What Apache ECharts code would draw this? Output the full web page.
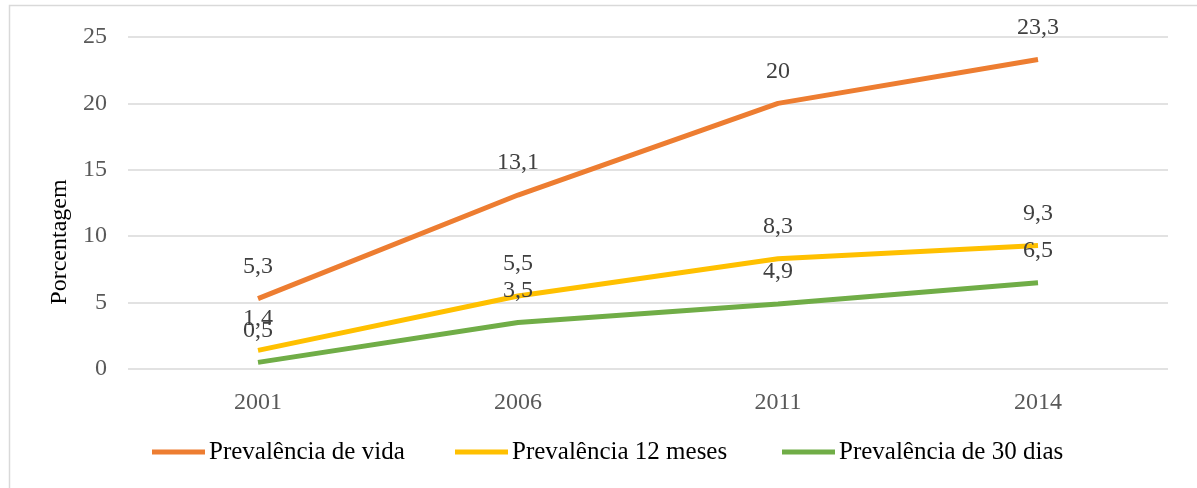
<!DOCTYPE html>
<html>
<head>
<meta charset="utf-8">
<script src="https://cdn.jsdelivr.net/npm/echarts@6/dist/echarts.min.js"></script>
<style>html,body{margin:0;padding:0;background:#fff}#c{width:1197px;height:488px}</style>
</head>
<body>
<div id="c"></div>
<script>
const categories = ['2001', '2006', '2011', '2014'];
const seriesNames = ['Prevalência de vida', 'Prevalência 12 meses', 'Prevalência de 30 dias'];
const vida = [5.3, 13.1, 20, 23.3];
const meses12 = [1.4, 5.5, 8.3, 9.3];
const dias30 = [0.5, 3.5, 4.9, 6.5];
const colors = ['#ED7D31', '#FFC000', '#70AD47'];
const yTicks = { min: 0, max: 25, interval: 5 };
const yName = 'Porcentagem';

const font = 'Liberation Serif';
const chart = echarts.init(document.getElementById('c'), null, { renderer: 'canvas' });
const fmt = p => String(p.value).replace('.', ',');
function mk(name, data, color) {
  return {
    name, type: 'line', data,
    symbol: 'circle', symbolSize: 0.1, showSymbol: true,
    lineStyle: { color, width: 5 },
    itemStyle: { color },
    label: { show: true, position: 'top', distance: 20, formatter: fmt,
      fontFamily: font, fontSize: 24, color: '#404040' },
    emphasis: { disabled: true },
    animation: false
  };
}
const legendLefts = [152, 455, 782];
const legendGraphics = [];
seriesNames.forEach((n, i) => {
  legendGraphics.push({ type: 'rect', shape: { x: legendLefts[i], y: 449.5, width: 53, height: 5 },
    style: { fill: colors[i] }, silent: true });
  legendGraphics.push({ type: 'text', x: legendLefts[i] + 57, y: 452,
    style: { text: n, font: '25px "Liberation Serif", serif', fill: '#000',
      align: 'left', verticalAlign: 'middle' }, silent: true });
});
chart.setOption({
  animation: false,
  color: colors,
  textStyle: { fontFamily: font },
  grid: { left: 128, right: 29, top: 37, bottom: 119 },
  graphic: [
    { type: 'rect', shape: { x: 9.5, y: 5.5, width: 1200, height: 500 },
      style: { fill: 'none', stroke: '#d9d9d9', lineWidth: 1.5 }, silent: true },
    { type: 'text', x: 60, y: 242, rotation: Math.PI / 2,
      style: { text: yName, font: '24px "Liberation Serif", serif', fill: '#000',
        align: 'center', verticalAlign: 'middle' } }
  ].concat(legendGraphics),
  xAxis: {
    type: 'category', data: categories, boundaryGap: true,
    axisLine: { show: false }, axisTick: { show: false },
    axisLabel: { fontFamily: font, fontSize: 24, color: '#595959', margin: 22 }
  },
  yAxis: {
    type: 'value', min: yTicks.min, max: yTicks.max, interval: yTicks.interval,
    axisLine: { show: false }, axisTick: { show: false },
    splitLine: { lineStyle: { color: '#d9d9d9', width: 1.5 } },
    axisLabel: { fontFamily: font, fontSize: 24, color: '#595959', margin: 21 }
  },
  series: [
    mk(seriesNames[0], vida, colors[0]),
    mk(seriesNames[1], meses12, colors[1]),
    mk(seriesNames[2], dias30, colors[2])
  ]
});
</script>
</body>
</html>
